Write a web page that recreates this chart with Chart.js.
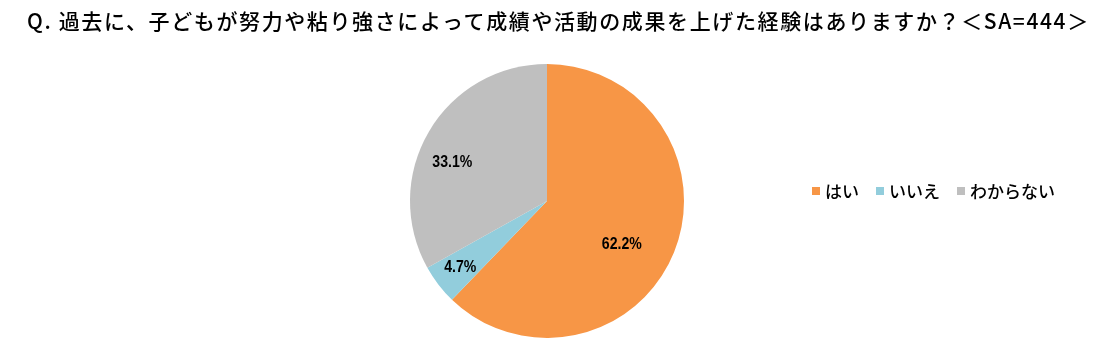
<!DOCTYPE html>
<html lang="ja">
<head>
<meta charset="utf-8">
<script src="https://cdn.jsdelivr.net/npm/chart.js@4"></script>
<style>
    html, body { margin: 0; padding: 0; background: #fff; }
    .wrap { position: relative; width: 1096px; height: 360px; }
    canvas { position: absolute; left: 0; top: 0; }
    .chart-title {
        position: absolute; left: 27px; top: 5px;
        font: 500 21px "Noto Sans CJK JP", sans-serif;
        letter-spacing: 1.62px;
        color: #000; white-space: nowrap;
    }
    .legend {
        position: absolute; left: 812px; top: 178px;
        display: flex; align-items: center;
        font: 500 17px "Noto Sans CJK JP", sans-serif; color: #000;
    }
    .legend-item { display: flex; align-items: center; margin-right: 17px; }
    .legend-box { width: 8px; height: 8px; margin-right: 5px; }
</style>
</head>
<body>
<div class="wrap">
    <canvas id="pieChart" width="1096" height="360"></canvas>
    <div class="chart-title" id="chartTitle"></div>
    <div class="legend" id="legend"></div>
</div>
<script>
// Chart data
const titleText = 'Q. 過去に、子どもが努力や粘り強さによって成績や活動の成果を上げた経験はありますか？＜SA=444＞';
const categories = ['はい', 'いいえ', 'わからない'];
const shares = [62.2, 4.7, 33.1];
const sliceColors = ['#F79646', '#92CDDC', '#BFBFBF'];

// Label placement: fraction of radius, and turn (degrees) from the slice middle
const labelRadius = [0.63, 0.8, 0.745];
const labelTurn = [8, 0, -8.5];

// Percent labels drawn on each slice
const sliceLabels = {
    id: 'sliceLabels',
    afterDatasetsDraw(chart) {
        const ctx = chart.ctx;
        const meta = chart.getDatasetMeta(0);
        ctx.save();
        ctx.font = 'bold 16px "Liberation Sans", sans-serif';
        ctx.fillStyle = '#000';
        ctx.textAlign = 'center';
        ctx.textBaseline = 'middle';
        meta.data.forEach((arc, i) => {
            const mid = (arc.startAngle + arc.endAngle) / 2 + labelTurn[i] * Math.PI / 180;
            const r = arc.outerRadius * labelRadius[i];
            const x = arc.x + Math.cos(mid) * r;
            const y = arc.y + Math.sin(mid) * r;
            // narrow the digits a little, like the original
            ctx.save();
            ctx.translate(x, y);
            ctx.scale(0.88, 1);
            ctx.fillText(shares[i].toFixed(1) + '%', 0, 0);
            ctx.restore();
        });
        ctx.restore();
    }
};

function buildLegend() {
    const legend = document.getElementById('legend');
    categories.forEach((name, i) => {
        const item = document.createElement('div');
        item.className = 'legend-item';
        const box = document.createElement('span');
        box.className = 'legend-box';
        box.style.background = sliceColors[i];
        const label = document.createElement('span');
        label.textContent = name;
        item.appendChild(box);
        item.appendChild(label);
        legend.appendChild(item);
    });
}

document.getElementById('chartTitle').textContent = titleText;
buildLegend();

new Chart(document.getElementById('pieChart').getContext('2d'), {
    type: 'pie',
    data: {
        labels: categories,
        datasets: [{
            data: shares,
            backgroundColor: sliceColors,
            borderWidth: 0,
            hoverOffset: 0
        }]
    },
    options: {
        responsive: false,
        animation: false,
        layout: { padding: { left: 410, right: 412, top: 64, bottom: 22 } },
        plugins: {
            legend: { display: false },
            tooltip: { enabled: false }
        }
    },
    plugins: [sliceLabels]
});
</script>
</body>
</html>
